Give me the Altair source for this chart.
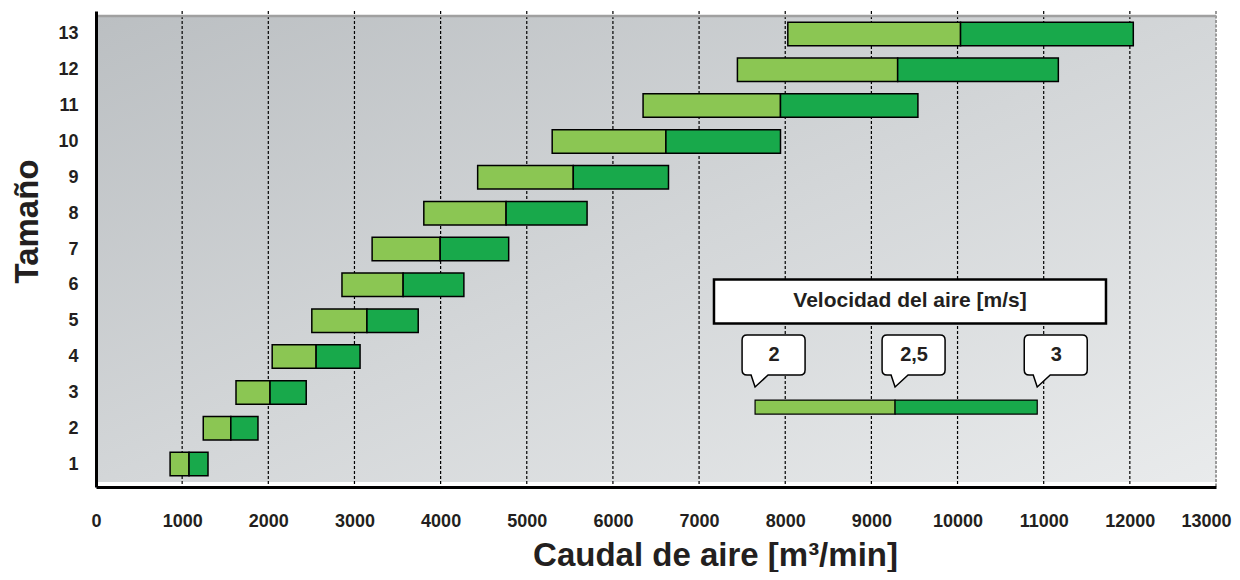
import altair as alt
import pandas as pd

# ---------------- data ----------------
sizes = list(range(1, 14))
flow_2ms = [860, 1245, 1625, 2045, 2505, 2855, 3205, 3805, 4430, 5295, 6350, 7445, 8030]
flow_25ms = [1080, 1565, 2020, 2555, 3145, 3565, 3995, 4760, 5540, 6615, 7945, 9305, 10035]
flow_3ms = [1300, 1880, 2440, 3065, 3740, 4270, 4790, 5700, 6645, 7945, 9540, 11170, 12040]

x_ticks = list(range(0, 13001, 1000))
grid_values = list(range(1000, 12001, 1000))

legend_title = "Velocidad del aire [m/s]"
legend_speeds = ["2", "2,5", "3"]
legend_flows = [7650, 9275, 10925]

# ---------------- style ----------------
FONT = "Liberation Sans"
TXT = "#231f20"
LIGHT = "#8BC653"
DARK = "#18A94B"

X_MAX = 13000
Y_MIN, Y_MAX = 0.5, 13.5

xscale = alt.Scale(domain=[0, X_MAX], nice=False, zero=False)
yscale = alt.Scale(domain=[Y_MIN, Y_MAX], nice=False, zero=False)

xaxis = alt.Axis(
    values=x_ticks, format="d", title="Caudal de aire [m³/min]",
    grid=False, ticks=False, tickSize=0, labelPadding=25,
    labelFont=FONT, labelFontSize=18, labelFontWeight="bold", labelColor=TXT,
    labelFlush=False, labelOverlap=False,
    labelOffset={"condition": {"test": "datum.value === 13000", "value": -10}, "value": 0},
    titleFont=FONT, titleFontSize=33, titleFontWeight="bold", titleColor=TXT,
    titleX=619, titleY=78, titleAlign="center", titleBaseline="alphabetic",
    domainColor="black", domainWidth=3, zindex=1,
)
yaxis = alt.Axis(
    values=sizes, format="d", title="Tamaño",
    grid=False, ticks=False, tickSize=0, labelPadding=18,
    labelFont=FONT, labelFontSize=18, labelFontWeight="bold", labelColor=TXT,
    labelOverlap=False, labelFlush=False,
    titleFont=FONT, titleFontSize=33, titleFontWeight="bold", titleColor=TXT,
    titleAngle=270, titleX=-59, titleY=210, titleAlign="center",
    titleBaseline="alphabetic",
    domainColor="black", domainWidth=3, zindex=1,
)


def X(field):
    return alt.X(field, type="quantitative", scale=xscale, axis=xaxis)


def Y(field):
    return alt.Y(field, type="quantitative", scale=yscale, axis=yaxis)


bars = pd.DataFrame({"size": sizes, "a": flow_2ms, "b": flow_25ms, "c": flow_3ms})

gradient = alt.Gradient(
    gradient="linear",
    stops=[alt.GradientStop(color="#bbbfc2", offset=0),
           alt.GradientStop(color="#d3d6d8", offset=0.5),
           alt.GradientStop(color="#e9ebec", offset=1)],
    x1=0, y1=0, x2=1, y2=1,
)

bg = alt.Chart(pd.DataFrame({"x": [0], "x2": [X_MAX], "y": [Y_MIN], "y2": [Y_MAX]})).mark_rect(
    fill=gradient, strokeWidth=0
).encode(x=X("x"), x2="x2", y=Y("y"), y2="y2")

grid = alt.Chart(pd.DataFrame({"v": grid_values})).mark_rule(
    color="black", strokeDash=[3, 2], strokeWidth=1.2
).encode(x=X("v"))

right_border = alt.Chart(pd.DataFrame({"v": [X_MAX]})).mark_rule(
    color="#9a9a9a", strokeDash=[3, 1.5], strokeWidth=2
).encode(x=X("v"))

top_border = alt.Chart(pd.DataFrame({"v": [Y_MAX]})).mark_rule(
    color="#a0a0a0", strokeWidth=2.5
).encode(y=Y("v"))

bar_light = alt.Chart(bars).mark_bar(
    size=23.5, color=LIGHT, stroke="black", strokeWidth=1.5, orient="horizontal"
).encode(x=X("a"), x2="b", y=Y("size"))

bar_dark = alt.Chart(bars).mark_bar(
    size=23.5, color=DARK, stroke="black", strokeWidth=1.5, orient="horizontal"
).encode(x=X("b"), x2="c", y=Y("size"))

# ---------------- legend ----------------
LEG_Y = 2.59
TIP_Y = 3.15
box = pd.DataFrame({"x": [7173], "x2": [11723], "y": [4.92], "y2": [6.15]})
legend_box = alt.Chart(box).mark_rect(
    fill="white", stroke="black", strokeWidth=2.5
).encode(x=X("x"), x2="x2", y=Y("y"), y2="y2")

legend_text = alt.Chart(pd.DataFrame({"x": [9448], "y": [5.54], "t": [legend_title]})).mark_text(
    font=FONT, fontSize=21, fontWeight="bold", color=TXT, align="center", baseline="middle"
).encode(x=X("x"), y=Y("y"), text="t:N")

leg_bars = pd.DataFrame({
    "a": legend_flows[:-1], "b": legend_flows[1:], "y": [LEG_Y, LEG_Y],
    "col": [LIGHT, DARK],
})
legend_bar = alt.Chart(leg_bars).mark_bar(
    size=14, stroke="black", strokeWidth=1.2, orient="horizontal"
).encode(x=X("a"), x2="b", y=Y("y"), color=alt.Color("col:N", scale=None))

CALLOUT = ("M0,0L-4,-12L-8,-12Q-13,-12,-13,-17L-13,-47Q-13,-52,-8,-52"
           "L45,-52Q50,-52,50,-47L50,-17Q50,-12,45,-12L13,-12Z")
calls = pd.DataFrame({"x": legend_flows, "y": [TIP_Y] * 3, "t": legend_speeds})
callouts = alt.Chart(calls).mark_point(
    shape=CALLOUT, size=4, filled=True, fill="white", stroke="black",
    strokeWidth=1.5, opacity=1, fillOpacity=1
).encode(x=X("x"), y=Y("y"))
callout_text = alt.Chart(calls).mark_text(
    font=FONT, fontSize=20, fontWeight="bold", color=TXT, align="center",
    baseline="middle", dx=19, dy=-32
).encode(x=X("x"), y=Y("y"), text="t:N")

chart = alt.layer(
    bg, grid, right_border, top_border, bar_light, bar_dark,
    legend_box, legend_text, legend_bar, callouts, callout_text
).properties(
    width=1120, height=476,
    autosize=alt.AutoSizeParams(type="none"),
    padding={"left": 88, "top": 3, "right": 16, "bottom": 85},
    background="white",
).configure_view(stroke=None)

chart.save("out.html", embed_options={"renderer": "svg", "actions": False})
